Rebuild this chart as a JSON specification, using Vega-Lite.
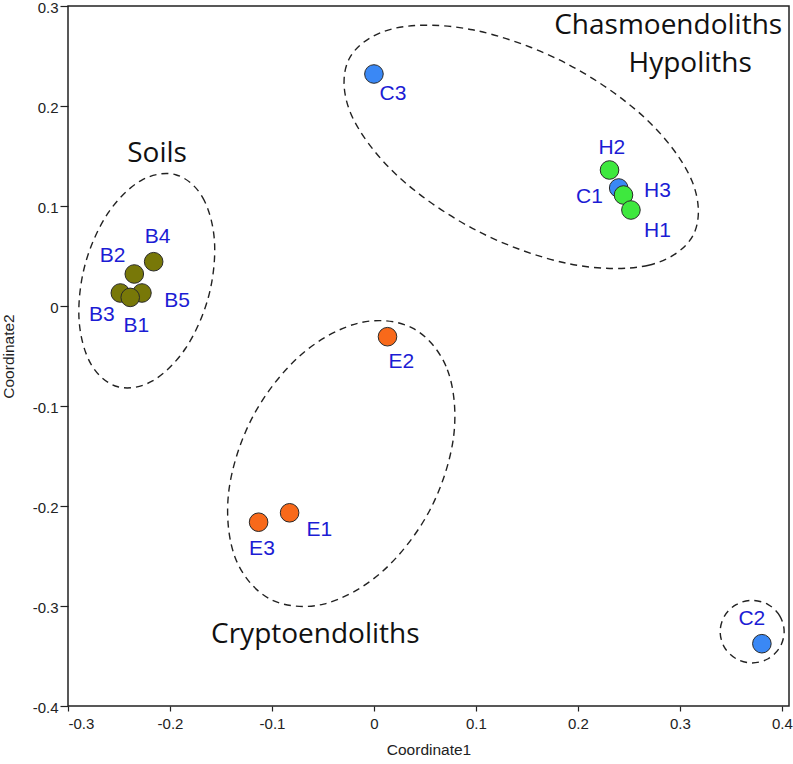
{
  "$schema": "https://vega.github.io/schema/vega-lite/v6.json",
  "width": 721,
  "height": 700,
  "autosize": {"type": "none"},
  "padding": {"left": 68, "top": 6, "right": 4, "bottom": 58},
  "background": "white",
  "config": {
    "view": {"stroke": "#222222", "strokeWidth": 1.5},
    "axis": {
      "grid": false,
      "domain": false,
      "tickColor": "#222222",
      "tickWidth": 1.2,
      "labelFont": "Liberation Sans",
      "labelFontSize": 15,
      "labelColor": "#222222",
      "titleFont": "Liberation Sans",
      "titleFontSize": 15.5,
      "titleFontWeight": "normal",
      "titleColor": "#222222"
    },
    "axisX": {"tickSize": 5, "labelPadding": 5, "titlePadding": 11},
    "axisY": {"tickSize": 8, "labelPadding": 2, "titlePadding": 16, "labelOffset": 1.8}
  },
  "datasets": {
    "points": [
      {"id": "C3", "group": "C", "x": 0.0, "y": 0.232, "lx": 0.0186, "ly": 0.2124},
      {"id": "C1", "group": "C", "x": 0.240, "y": 0.118, "lx": 0.2114, "ly": 0.1095},
      {"id": "H2", "group": "H", "x": 0.231, "y": 0.136, "lx": 0.2333, "ly": 0.1584},
      {"id": "H3", "group": "H", "x": 0.2447, "y": 0.111, "lx": 0.278, "ly": 0.1152},
      {"id": "H1", "group": "H", "x": 0.252, "y": 0.096, "lx": 0.278, "ly": 0.0752},
      {"id": "B3", "group": "B", "x": -0.2487, "y": 0.013, "lx": -0.2667, "ly": -0.0087},
      {"id": "B5", "group": "B", "x": -0.2275, "y": 0.013, "lx": -0.1931, "ly": 0.0053},
      {"id": "B2", "group": "B", "x": -0.235, "y": 0.032, "lx": -0.2563, "ly": 0.0496},
      {"id": "B4", "group": "B", "x": -0.216, "y": 0.0443, "lx": -0.2122, "ly": 0.0692},
      {"id": "B1", "group": "B", "x": -0.239, "y": 0.0086, "lx": -0.233, "ly": -0.0204},
      {"id": "E2", "group": "E", "x": 0.0133, "y": -0.0307, "lx": 0.0268, "ly": -0.0556},
      {"id": "E1", "group": "E", "x": -0.0827, "y": -0.2068, "lx": -0.0536, "ly": -0.2238},
      {"id": "E3", "group": "E", "x": -0.1131, "y": -0.2162, "lx": -0.1098, "ly": -0.2428},
      {"id": "C2", "group": "C", "x": 0.3804, "y": -0.3377, "lx": 0.3706, "ly": -0.3127}
    ],
    "groups": [
      {"name": "Soils", "x": -0.2127, "y": 0.1518},
      {"name": "Chasmoendoliths", "x": 0.2885, "y": 0.28},
      {"name": "Hypoliths", "x": 0.3101, "y": 0.2418},
      {"name": "Cryptoendoliths", "x": -0.0575, "y": -0.3294}
    ],
    "ellipses": [
      {"e": "soil", "i": 0, "x": -0.1944, "y": 0.1313},
      {"e": "soil", "i": 1, "x": -0.16803, "y": 0.1087},
      {"e": "soil", "i": 2, "x": -0.15632, "y": 0.06377},
      {"e": "soil", "i": 3, "x": -0.16241, "y": 0.00852},
      {"e": "soil", "i": 4, "x": -0.18468, "y": -0.04225},
      {"e": "soil", "i": 5, "x": -0.21713, "y": -0.07492},
      {"e": "soil", "i": 6, "x": -0.2511, "y": -0.08075},
      {"e": "soil", "i": 7, "x": -0.27747, "y": -0.05816},
      {"e": "soil", "i": 8, "x": -0.28918, "y": -0.01323},
      {"e": "soil", "i": 9, "x": -0.28309, "y": 0.04202},
      {"e": "soil", "i": 10, "x": -0.26082, "y": 0.09279},
      {"e": "soil", "i": 11, "x": -0.22837, "y": 0.12546},
      {"e": "chasmo", "i": 0, "x": 0.31321, "y": 0.07124},
      {"e": "chasmo", "i": 1, "x": 0.26942, "y": 0.0408},
      {"e": "chasmo", "i": 2, "x": 0.19214, "y": 0.04207},
      {"e": "chasmo", "i": 3, "x": 0.10207, "y": 0.07471},
      {"e": "chasmo", "i": 4, "x": 0.02334, "y": 0.12997},
      {"e": "chasmo", "i": 5, "x": -0.02294, "y": 0.19304},
      {"e": "chasmo", "i": 6, "x": -0.02439, "y": 0.24704},
      {"e": "chasmo", "i": 7, "x": 0.0194, "y": 0.27748},
      {"e": "chasmo", "i": 8, "x": 0.09668, "y": 0.27621},
      {"e": "chasmo", "i": 9, "x": 0.18675, "y": 0.24357},
      {"e": "chasmo", "i": 10, "x": 0.26548, "y": 0.18831},
      {"e": "chasmo", "i": 11, "x": 0.31176, "y": 0.12524},
      {"e": "crypto", "i": 0, "x": 0.03797, "y": -0.02219},
      {"e": "crypto", "i": 1, "x": 0.07201, "y": -0.06366},
      {"e": "crypto", "i": 2, "x": 0.07816, "y": -0.13027},
      {"e": "crypto", "i": 3, "x": 0.05478, "y": -0.2042},
      {"e": "crypto", "i": 4, "x": 0.00812, "y": -0.26563},
      {"e": "crypto", "i": 5, "x": -0.04929, "y": -0.29808},
      {"e": "crypto", "i": 6, "x": -0.10209, "y": -0.29289},
      {"e": "crypto", "i": 7, "x": -0.13613, "y": -0.25142},
      {"e": "crypto", "i": 8, "x": -0.14228, "y": -0.18481},
      {"e": "crypto", "i": 9, "x": -0.1189, "y": -0.11088},
      {"e": "crypto", "i": 10, "x": -0.07224, "y": -0.04945},
      {"e": "crypto", "i": 11, "x": -0.01483, "y": -0.017},
      {"e": "c2", "i": 0, "x": 0.40225, "y": -0.32567},
      {"e": "c2", "i": 1, "x": 0.39805, "y": -0.31004},
      {"e": "c2", "i": 2, "x": 0.38657, "y": -0.29859},
      {"e": "c2", "i": 3, "x": 0.37088, "y": -0.2944},
      {"e": "c2", "i": 4, "x": 0.35519, "y": -0.29859},
      {"e": "c2", "i": 5, "x": 0.34371, "y": -0.31004},
      {"e": "c2", "i": 6, "x": 0.33951, "y": -0.32567},
      {"e": "c2", "i": 7, "x": 0.34371, "y": -0.3413},
      {"e": "c2", "i": 8, "x": 0.35519, "y": -0.35275},
      {"e": "c2", "i": 9, "x": 0.37088, "y": -0.35694},
      {"e": "c2", "i": 10, "x": 0.38657, "y": -0.35275},
      {"e": "c2", "i": 11, "x": 0.39805, "y": -0.3413}
    ]
  },
  "layer": [
    {
      "data": {"name": "ellipses"},
      "mark": {"type": "line", "interpolate": "cardinal-closed", "stroke": "#222222", "strokeWidth": 1.4, "strokeDash": [7, 5], "clip": true},
      "encoding": {
        "x": {"field": "x", "type": "quantitative", "title": "Coordinate1",
              "scale": {"domain": [-0.3, 0.407], "nice": false, "zero": false},
              "axis": {"values": [-0.3, -0.2, -0.1, 0, 0.1, 0.2, 0.3, 0.4], "format": ".1~f", "labelExpr": "replace(datum.label, '\u2212', '-')"}},
        "y": {"field": "y", "type": "quantitative", "title": "Coordinate2",
              "scale": {"domain": [-0.4, 0.3], "nice": false, "zero": false},
              "axis": {"values": [-0.4, -0.3, -0.2, -0.1, 0, 0.1, 0.2, 0.3], "format": ".1~f", "labelExpr": "replace(datum.label, '\u2212', '-')"}},
        "detail": {"field": "e", "type": "nominal"},
        "order": {"field": "i", "type": "quantitative"}
      }
    },
    {
      "data": {"name": "points"},
      "mark": {"type": "circle", "size": 346, "opacity": 1, "stroke": "#2a2a2a", "strokeWidth": 1},
      "encoding": {
        "x": {"field": "x", "type": "quantitative", "title": "Coordinate1", "scale": {"domain": [-0.3, 0.407], "nice": false, "zero": false}},
        "y": {"field": "y", "type": "quantitative", "title": "Coordinate2", "scale": {"domain": [-0.4, 0.3], "nice": false, "zero": false}},
        "color": {"field": "group", "type": "nominal", "legend": null,
                  "scale": {"domain": ["B", "C", "H", "E"], "range": ["#787808", "#3a88f5", "#3ee83e", "#f8691a"]}}
      }
    },
    {
      "data": {"name": "points"},
      "mark": {"type": "text", "font": "Liberation Sans", "fontSize": 21, "fill": "#1c1cd4", "align": "center", "baseline": "middle"},
      "encoding": {
        "x": {"field": "lx", "type": "quantitative", "title": "Coordinate1", "scale": {"domain": [-0.3, 0.407], "nice": false, "zero": false}},
        "y": {"field": "ly", "type": "quantitative", "title": "Coordinate2", "scale": {"domain": [-0.4, 0.3], "nice": false, "zero": false}},
        "text": {"field": "id", "type": "nominal"}
      }
    },
    {
      "data": {"name": "groups"},
      "mark": {"type": "text", "font": "Open Sans", "fontSize": 28, "fill": "#111111", "align": "center", "baseline": "middle"},
      "encoding": {
        "x": {"field": "x", "type": "quantitative", "title": "Coordinate1", "scale": {"domain": [-0.3, 0.407], "nice": false, "zero": false}},
        "y": {"field": "y", "type": "quantitative", "title": "Coordinate2", "scale": {"domain": [-0.4, 0.3], "nice": false, "zero": false}},
        "text": {"field": "name", "type": "nominal"}
      }
    }
  ]
}
